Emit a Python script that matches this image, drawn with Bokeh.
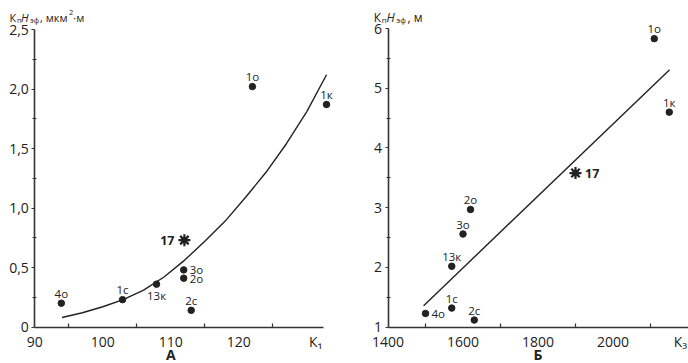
from bokeh.plotting import figure
from bokeh.layouts import row
from bokeh.models import ColumnDataSource, FixedTicker, Range1d
from bokeh.core.properties import value
from bokeh.embed import file_html
from bokeh.resources import INLINE

# ---------------- Panel A data ----------------
a_names = ["4о", "1с", "13к", "3о", "2о", "2с", "1о", "1к"]
a_k1 = [93.9, 102.9, 107.9, 111.9, 111.9, 113.0, 122.0, 132.9]
a_khef = [0.20, 0.23, 0.36, 0.48, 0.41, 0.14, 2.02, 1.87]
a_star_name = ["17"]
a_star_k1 = [112.0]
a_star_khef = [0.73]
a_curve_k1 = [94, 97, 100, 103, 106, 109, 112, 115, 118, 121, 124, 127, 130, 132.9]
a_curve_khef = [0.08, 0.12, 0.17, 0.23, 0.31, 0.42, 0.56, 0.72, 0.89, 1.09, 1.30, 1.54, 1.81, 2.12]
a_xticks = [90, 100, 110, 120]
a_xtick_labels = ["90", "100", "110", "120"]
a_xminor = [95, 105, 115, 125]
a_yticks = [0, 0.5, 1.0, 1.5, 2.0, 2.5]
a_ytick_labels = ["0", "0,5", "1,0", "1,5", "2,0", "2,5"]
a_yminor = [0.25, 0.75, 1.25, 1.75, 2.25]
a_xname = "К₁"
a_title = "А"

# ---------------- Panel B data ----------------
b_names = ["4о", "1с", "2с", "13к", "3о", "2о", "1о", "1к"]
b_k3 = [1500, 1570, 1630, 1570, 1600, 1620, 2110, 2150]
b_khef = [1.23, 1.32, 1.12, 2.02, 2.56, 2.97, 5.83, 4.60]
b_star_name = ["17"]
b_star_k3 = [1900]
b_star_khef = [3.58]
b_line_k3 = [1495, 2151]
b_line_khef = [1.36, 5.31]
b_xticks = [1400, 1600, 1800, 2000]
b_xtick_labels = ["1400", "1600", "1800", "2000"]
b_xminor = [1500, 1700, 1900, 2100]
b_yticks = [1, 2, 3, 4, 5, 6]
b_ytick_labels = ["1", "2", "3", "4", "5", "6"]
b_yminor = [1.5, 2.5, 3.5, 4.5, 5.5]
b_xname = "К₃"
b_title = "Б"

# ---------------- styles ----------------
FONT = "Open Sans"
INK = "#222222"
AXIS = "#333333"
H = 363

a_place = {"4о": "above", "1с": "above", "13к": "below", "3о": "right",
           "2о": "right", "2с": "above", "1о": "above", "1к": "above"}
b_place = {"4о": "right", "1с": "above", "2с": "above", "13к": "above",
           "3о": "above", "2о": "above", "1о": "above", "1к": "above"}

OFFS = {
    "above": dict(x_offset=0, y_offset=-10, text_align="center", text_baseline="middle"),
    "below": dict(x_offset=0, y_offset=11, text_align="center", text_baseline="middle"),
    "right": dict(x_offset=6, y_offset=0, text_align="left", text_baseline="middle"),
    "left": dict(x_offset=-9, y_offset=0, text_align="right", text_baseline="middle"),
}


def make_fig(width, xr, yr, x0, y0, xb, yb):
    p = figure(width=width, height=H, x_range=Range1d(*xr), y_range=Range1d(*yr),
               output_backend="svg", toolbar_location=None, title=None,
               min_border_left=0, min_border_right=0,
               min_border_top=0, min_border_bottom=0)
    p.outline_line_color = None
    p.grid.visible = False
    p.background_fill_color = "white"
    p.border_fill_color = "white"
    p.xaxis.fixed_location = y0
    p.yaxis.fixed_location = x0
    p.xaxis.bounds = xb
    p.yaxis.bounds = yb
    for ax in (p.xaxis[0], p.yaxis[0]):
        ax.axis_line_color = AXIS
        ax.axis_line_width = 1.6
        ax.major_label_text_font = FONT
        ax.major_label_text_font_size = "14px"
        ax.major_label_text_color = INK
        ax.minor_tick_line_color = AXIS
        ax.minor_tick_line_width = 1.2
    p.xaxis.major_tick_line_color = None
    p.xaxis.major_tick_out = 0
    p.xaxis.major_tick_in = 0
    p.xaxis.minor_tick_in = 4
    p.xaxis.minor_tick_out = 0
    p.xaxis.major_label_standoff = 5
    p.yaxis.major_tick_line_color = AXIS
    p.yaxis.major_tick_line_width = 1.2
    p.yaxis.major_tick_out = 3
    p.yaxis.major_tick_in = 0
    p.yaxis.minor_tick_in = 2
    p.yaxis.minor_tick_out = 2
    p.yaxis.major_label_standoff = 3
    return p


def draw_points(p, xs, ys, names, place):
    p.scatter(xs, ys, marker="circle", size=6.5, fill_color=INK, line_color=INK)
    for key, st in OFFS.items():
        idx = [i for i, n in enumerate(names) if place.get(n) == key]
        if not idx:
            continue
        src = ColumnDataSource(dict(x=[xs[i] for i in idx], y=[ys[i] for i in idx],
                                    t=[names[i] for i in idx]))
        p.text("x", "y", text="t", source=src, text_font=value(FONT),
               text_font_size=value("11.5px"), text_color=INK, **st)


def draw_star(p, xs, ys, names, side):
    p.scatter(xs, ys, marker="asterisk", size=12, line_width=2.2, line_color=INK)
    p.scatter(xs, ys, marker="circle", size=6, fill_color=INK, line_color=INK)
    st = OFFS[side]
    p.text(xs, ys, text=names, text_font=value(FONT), text_font_size=value("12.5px"),
           text_font_style="bold", text_color=INK,
           x_offset=st["x_offset"] * (1.1 if side == "left" else 1.6),
           y_offset=0, text_align=st["text_align"], text_baseline="middle")


def title_pieces(p, x0, y0, pieces):
    for txt, dx, dy, size, style in pieces:
        p.text([x0], [y0], text=[txt], x_offset=dx, y_offset=dy,
               text_font=value(FONT), text_font_size=value(size), text_font_style=style,
               text_color=INK, text_baseline="alphabetic", text_align="left")


def panel_title(p, x, y, txt):
    p.text([x], [y], text=[txt], y_offset=27, text_font=value(FONT),
           text_font_size=value("14px"), text_font_style="bold", text_color=INK,
           text_align="center", text_baseline="middle")


# ---------------- Panel A ----------------
# x: 90 at 34.3 px, 6.8 px/unit ; y: 2.5 at 29 px, 0 at 326.5 px (119 px/unit)
pa = make_fig(352, (84.956, 136.72), (-0.3067, 2.7437), 90, 0, (90, 132.5), (0, 2.5))
pa.xaxis.ticker = FixedTicker(ticks=a_xticks + [131.3], minor_ticks=a_xminor)
pa.xaxis.major_label_overrides = {**{t: l for t, l in zip(a_xticks, a_xtick_labels)}, 131.3: a_xname}
pa.yaxis.ticker = FixedTicker(ticks=a_yticks, minor_ticks=a_yminor)
pa.yaxis.major_label_overrides = {t: l for t, l in zip(a_yticks, a_ytick_labels)}
pa.line(a_curve_k1, a_curve_khef, line_color=INK, line_width=1.4)
draw_points(pa, a_k1, a_khef, a_names, a_place)
draw_star(pa, a_star_k1, a_star_khef, a_star_name, "left")
title_pieces(pa, 90, 2.5, [
    ("К", -25.3, -12, "11px", "normal"),
    ("п", -17.8, -10, "7.5px", "normal"),
    ("H", -13.8, -12, "11px", "italic"),
    ("эф", -4.8, -10, "7.5px", "normal"),
    (", мкм", 5.2, -12, "11px", "normal"),
    ("2", 34.3, -17, "7.5px", "normal"),
    ("·м", 38.5, -12, "11px", "normal"),
])
panel_title(pa, 110, 0, a_title)

# ---------------- Panel Б ----------------
# x: 1400 at 35.5 px, 0.375 px/unit ; y: 6 at 28 px, 1 at 326.7 px (59.74 px/unit)
pb = make_fig(336, (1305.33, 2201.33), (0.3924, 6.4687), 1400, 1, (1400, 2201), (1, 6))
pb.xaxis.ticker = FixedTicker(ticks=b_xticks + [2180], minor_ticks=b_xminor)
pb.xaxis.major_label_overrides = {**{t: l for t, l in zip(b_xticks, b_xtick_labels)}, 2180: b_xname}
pb.yaxis.ticker = FixedTicker(ticks=b_yticks, minor_ticks=b_yminor)
pb.yaxis.major_label_overrides = {t: l for t, l in zip(b_yticks, b_ytick_labels)}
pb.line(b_line_k3, b_line_khef, line_color=INK, line_width=1.4)
draw_points(pb, b_k3, b_khef, b_names, b_place)
draw_star(pb, b_star_k3, b_star_khef, b_star_name, "right")
title_pieces(pb, 1400, 6, [
    ("К", -14.2, -11, "12px", "normal"),
    ("п", -6.2, -9, "8px", "normal"),
    ("H", -1.5, -11, "12px", "italic"),
    ("эф", 8.3, -9, "8px", "normal"),
    (", м", 19.5, -11, "12px", "normal"),
])
panel_title(pb, 1800, 1, b_title)

layout = row(pa, pb)
open("out.html", "w").write(file_html(layout, INLINE))
